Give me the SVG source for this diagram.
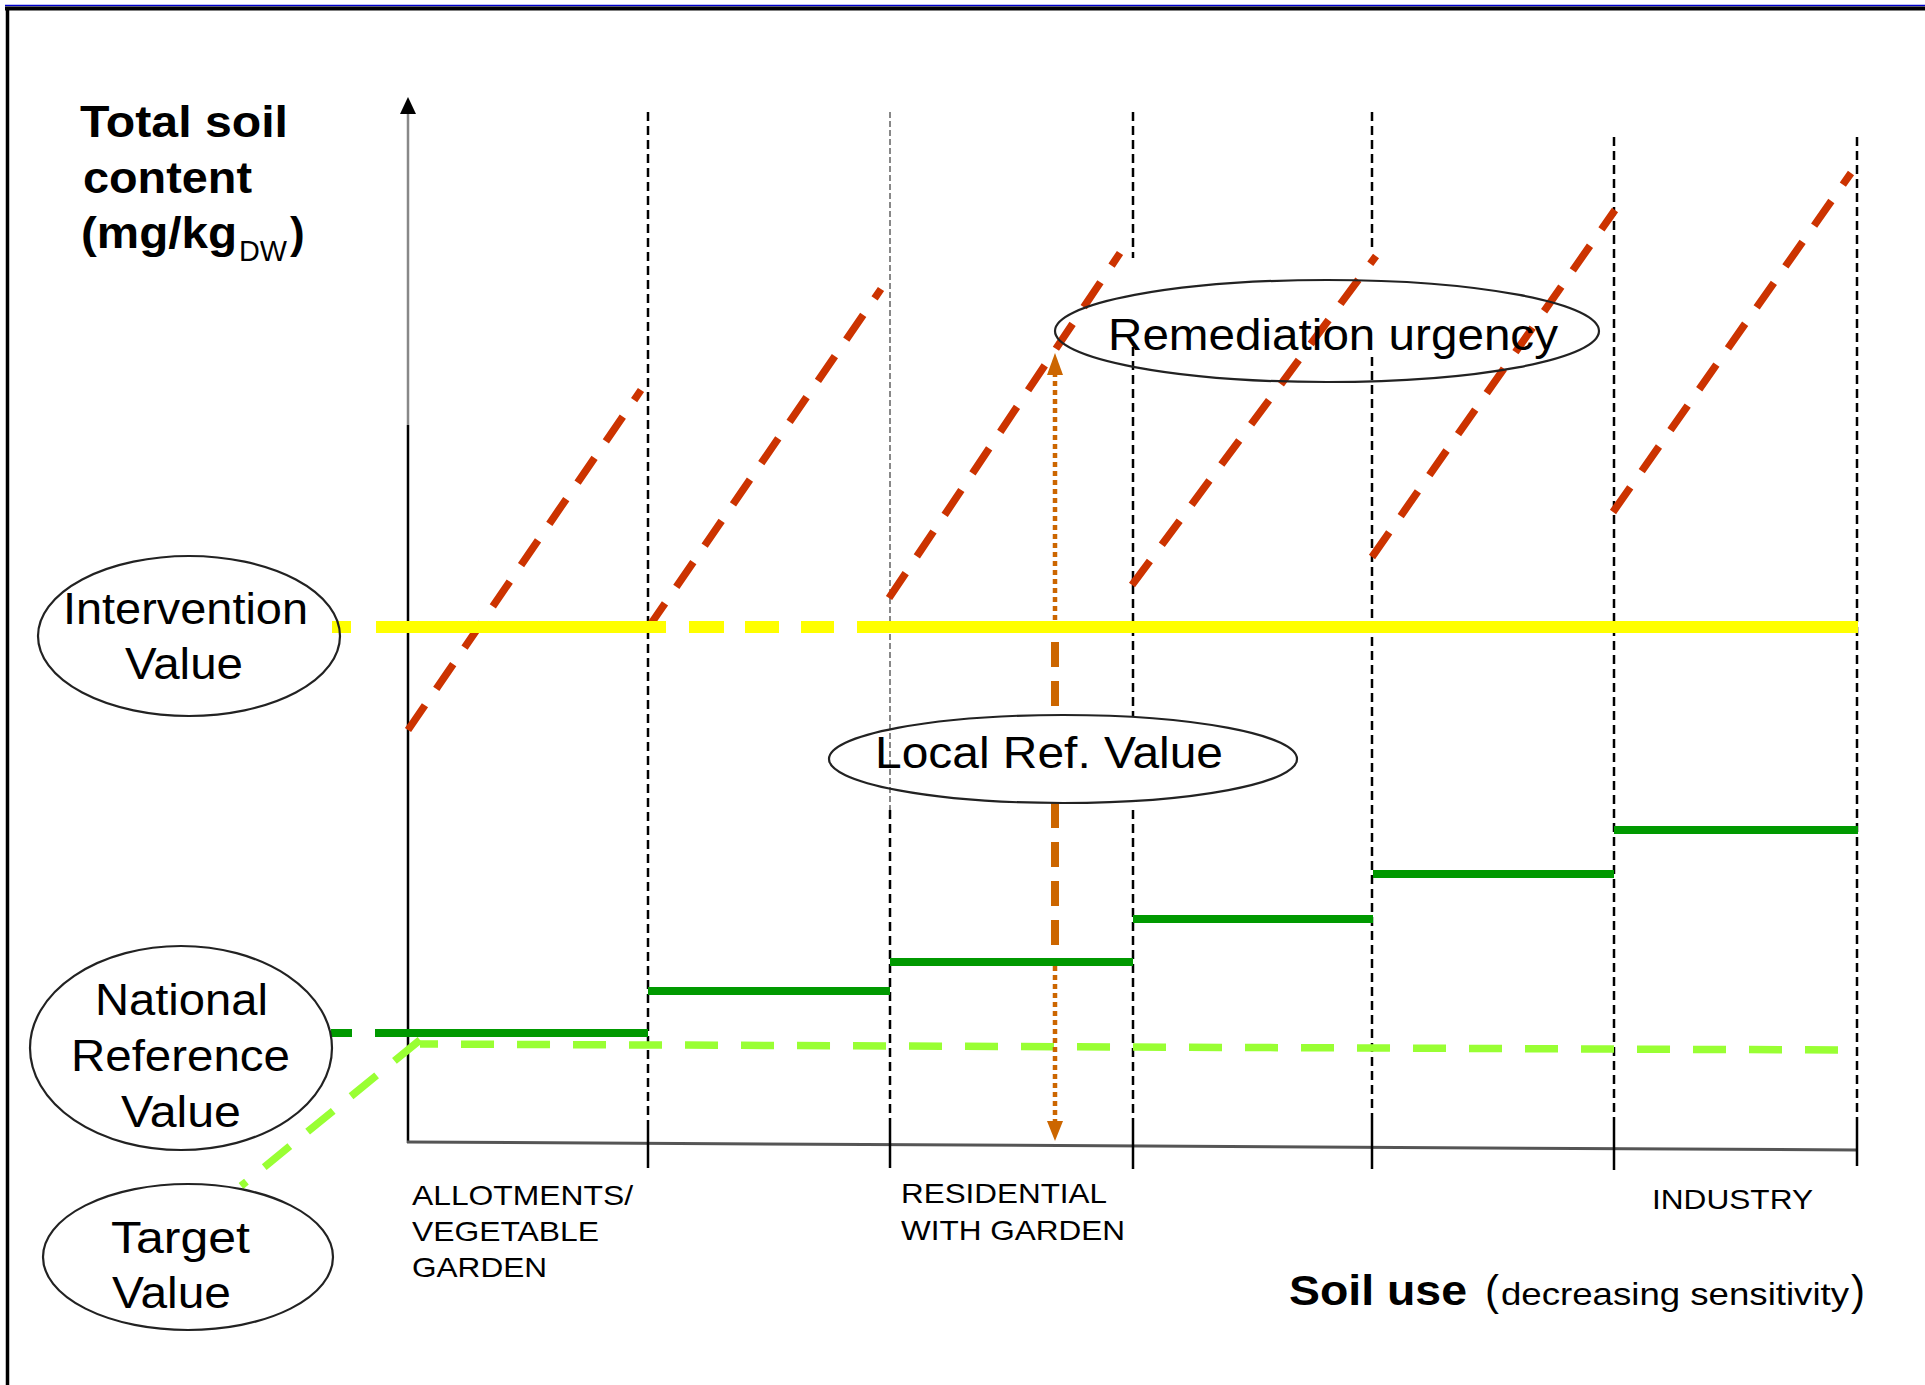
<svg xmlns="http://www.w3.org/2000/svg" width="1925" height="1385" viewBox="0 0 1925 1385">
<defs>
<style>
text{font-family:"Liberation Sans",Arial,sans-serif;fill:#000}
.b{font-weight:bold}
.oval{fill:none;stroke:#222;stroke-width:2.2}
.div{stroke:#000;stroke-width:2.5;stroke-dasharray:9 5;fill:none}
.divg{stroke:#888;stroke-width:2;stroke-dasharray:6 3;fill:none}
.tick{stroke:#000;stroke-width:2.5}
.red{stroke:#CC3300;stroke-width:7.5;stroke-dasharray:30 20;fill:none}
.yel{stroke:#FFFF00;stroke-width:12}
.dg{stroke:#009900;stroke-width:8}
.lg{stroke:#99FF33;stroke-width:7.5;stroke-dasharray:33 23;fill:none}
.or{stroke:#CC6600;stroke-width:8;stroke-dasharray:25 14}
.od{stroke:#CC6600;stroke-width:4.5;stroke-dasharray:5 4}
</style>
</defs>
<rect x="0" y="0" width="1925" height="1385" fill="#fff"/>

<g id="frame">
<line x1="5" y1="5.5" x2="1925" y2="5.5" stroke="#0000CC" stroke-width="1.5"/>
<line x1="5" y1="8.5" x2="1925" y2="8.5" stroke="#000" stroke-width="4"/>
<line x1="7.5" y1="7" x2="7.5" y2="1385" stroke="#000" stroke-width="3.5"/>
</g>

<g id="axes">
<line x1="408" y1="112" x2="408" y2="425" stroke="#888" stroke-width="2.5"/>
<line x1="408" y1="425" x2="408" y2="1143" stroke="#000" stroke-width="2.5"/>
<polygon points="408,97 400,114 416,114" fill="#000"/>
<line x1="407" y1="1142" x2="1858" y2="1150" stroke="#555" stroke-width="3"/>
</g>

<g id="connectors">
<line class="div" x1="648" y1="112" x2="648" y2="1122"/>
<line class="divg" x1="890" y1="112" x2="890" y2="810"/>
<line class="div" x1="890" y1="810" x2="890" y2="1122"/>
<line class="div" x1="1133" y1="112" x2="1133" y2="258"/>
<line class="div" x1="1133" y1="347" x2="1133" y2="717"/>
<line class="div" x1="1133" y1="810" x2="1133" y2="1122"/>
<line class="div" x1="1372" y1="112" x2="1372" y2="252"/>
<line class="div" x1="1372" y1="357" x2="1372" y2="1122"/>
<line class="div" x1="1614" y1="137" x2="1614" y2="1122"/>
<line class="div" x1="1857" y1="137" x2="1857" y2="1122"/>
<line class="tick" x1="648" y1="1122" x2="648" y2="1168"/>
<line class="tick" x1="890" y1="1122" x2="890" y2="1168"/>
<line class="tick" x1="1133" y1="1122" x2="1133" y2="1169"/>
<line class="tick" x1="1372" y1="1122" x2="1372" y2="1169"/>
<line class="tick" x1="1614" y1="1122" x2="1614" y2="1170"/>
<line class="tick" x1="1857" y1="1122" x2="1857" y2="1166"/>

<line class="red" x1="408" y1="730" x2="641" y2="390"/>
<line class="red" x1="648" y1="628" x2="881" y2="289"/>
<line class="red" x1="889" y1="598" x2="1120" y2="253"/>
<line class="red" x1="1132" y1="585" x2="1376" y2="256"/>
<line class="red" x1="1372" y1="557" x2="1615" y2="210"/>
<line class="red" x1="1613" y1="512" x2="1851" y2="173"/>

<line class="yel" x1="332" y1="627" x2="351" y2="627"/>
<line class="yel" x1="376" y1="627" x2="666" y2="627"/>
<line class="yel" x1="689" y1="627" x2="724" y2="627"/>
<line class="yel" x1="745" y1="627" x2="779" y2="627"/>
<line class="yel" x1="801" y1="627" x2="834" y2="627"/>
<line class="yel" x1="857" y1="627" x2="1858" y2="627"/>

<line class="lg" x1="1838" y1="1050" x2="420" y2="1044"/>
<line class="lg" x1="420" y1="1040" x2="241" y2="1186"/>

<line class="dg" x1="331" y1="1033" x2="352" y2="1033"/>
<line class="dg" x1="375" y1="1033" x2="648" y2="1033"/>
<line class="dg" x1="648" y1="991" x2="890" y2="991"/>
<line class="dg" x1="890" y1="962" x2="1133" y2="962"/>
<line class="dg" x1="1133" y1="919" x2="1373" y2="919"/>
<line class="dg" x1="1373" y1="874" x2="1614" y2="874"/>
<line class="dg" x1="1614" y1="830" x2="1858" y2="830"/>

<line class="od" x1="1055" y1="620" x2="1055" y2="372"/>
<polygon points="1055,353 1047,375 1063,375" fill="#CC6600"/>
<line class="or" x1="1055" y1="642" x2="1055" y2="706"/>
<line class="or" x1="1055" y1="803" x2="1055" y2="947"/>
<line class="od" x1="1055" y1="966" x2="1055" y2="1125"/>
<polygon points="1055,1141 1047,1121 1063,1121" fill="#CC6600"/>
</g>

<g id="y-axis-title">
<text class="b" x="80" y="137" font-size="44" textLength="208" lengthAdjust="spacingAndGlyphs">Total soil</text>
<text class="b" x="83" y="193" font-size="44" textLength="169" lengthAdjust="spacingAndGlyphs">content</text>
<text class="b" x="81" y="248" font-size="44" textLength="156" lengthAdjust="spacingAndGlyphs">(mg/kg</text>
<text x="239" y="261" font-size="30" textLength="48" lengthAdjust="spacingAndGlyphs">DW</text>
<text class="b" x="290" y="248" font-size="44">)</text>
</g>

<g id="node-intervention">
<ellipse class="oval" cx="189" cy="636" rx="151" ry="80"/>
<text x="63" y="624" font-size="44" textLength="245" lengthAdjust="spacingAndGlyphs">Intervention</text>
<text x="125" y="679" font-size="44" textLength="118" lengthAdjust="spacingAndGlyphs">Value</text>
</g>

<g id="node-national">
<ellipse class="oval" cx="181" cy="1048" rx="151" ry="102"/>
<text x="95" y="1015" font-size="44" textLength="173" lengthAdjust="spacingAndGlyphs">National</text>
<text x="71" y="1071" font-size="44" textLength="219" lengthAdjust="spacingAndGlyphs">Reference</text>
<text x="121" y="1127" font-size="44" textLength="120" lengthAdjust="spacingAndGlyphs">Value</text>
</g>

<g id="node-target">
<ellipse class="oval" cx="188" cy="1257" rx="145" ry="73"/>
<text x="111" y="1253" font-size="44" textLength="139" lengthAdjust="spacingAndGlyphs">Target</text>
<text x="112" y="1308" font-size="44" textLength="119" lengthAdjust="spacingAndGlyphs">Value</text>
</g>

<g id="node-remediation">
<ellipse class="oval" cx="1327" cy="331" rx="272" ry="51"/>
<text x="1108" y="350" font-size="44" textLength="450" lengthAdjust="spacingAndGlyphs">Remediation urgency</text>
</g>

<g id="node-local">
<ellipse class="oval" cx="1063" cy="759" rx="234" ry="44"/>
<text x="875" y="768" font-size="44" textLength="348" lengthAdjust="spacingAndGlyphs">Local Ref. Value</text>
</g>

<g id="x-labels">
<text x="412" y="1205" font-size="28" textLength="221" lengthAdjust="spacingAndGlyphs">ALLOTMENTS/</text>
<text x="412" y="1241" font-size="28" textLength="187" lengthAdjust="spacingAndGlyphs">VEGETABLE</text>
<text x="412" y="1277" font-size="28" textLength="135" lengthAdjust="spacingAndGlyphs">GARDEN</text>
<text x="901" y="1203" font-size="28" textLength="206" lengthAdjust="spacingAndGlyphs">RESIDENTIAL</text>
<text x="901" y="1240" font-size="28" textLength="224" lengthAdjust="spacingAndGlyphs">WITH GARDEN</text>
<text x="1652" y="1209" font-size="28" textLength="161" lengthAdjust="spacingAndGlyphs">INDUSTRY</text>
</g>

<g id="x-axis-title">
<text class="b" x="1289" y="1305" font-size="42" textLength="178" lengthAdjust="spacingAndGlyphs">Soil use</text>
<text x="1485" y="1305" font-size="42">(</text>
<text x="1501" y="1305" font-size="32" textLength="348" lengthAdjust="spacingAndGlyphs">decreasing sensitivity</text>
<text x="1851" y="1305" font-size="42">)</text>
</g>
</svg>
